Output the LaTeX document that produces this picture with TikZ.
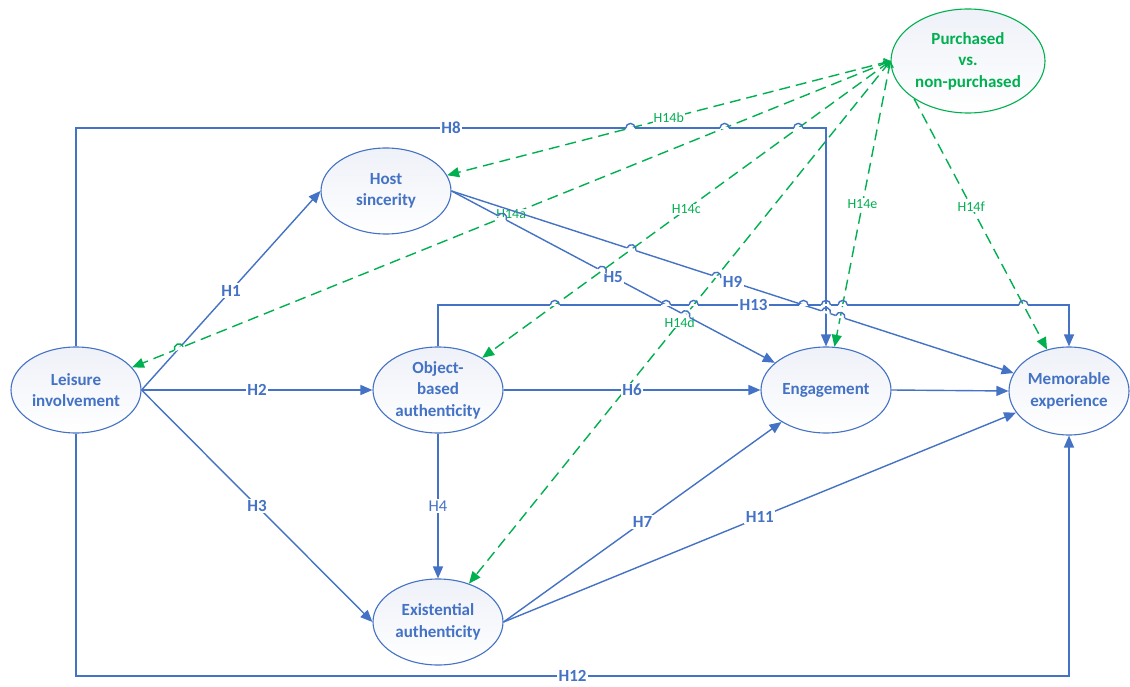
\documentclass[tikz,border=0pt]{standalone}
\usepackage{fontspec}
\setmainfont{Carlito}
\usetikzlibrary{arrows.meta,shapes.geometric,intersections}
\definecolor{bl}{HTML}{4472C4}
\definecolor{gr}{HTML}{00B050}
\definecolor{fillc}{HTML}{EEF1F8}
\tikzset{
  hop/.pic={\fill[white] (-4.8,-1.2) rectangle (4.8,1.2);
            \draw[bl, line width=1.4pt] (-4.6,0) arc[start angle=180, end angle=360, radius=4.6];},
  ghop/.pic={\fill[white] (-4.8,-1.2) rectangle (4.8,1.2);
            \draw[gr, line width=1.4pt] (-4.6,0) arc[start angle=180, end angle=360, radius=4.6];}
}
\newcommand\hopat[3][0]{\path[name intersections={of=#2 and #3, by=hp}]; \pic[rotate=#1] at (hp) {hop};}
\begin{document}
\begin{tikzpicture}[x=1pt,y=-1pt,
  var/.style={ellipse, draw=bl, line width=1.1pt, top color=fillc, bottom color=white,
              minimum width=130pt, minimum height=86pt, inner sep=0pt},
  vtext/.style={align=center, text=bl, font=\fontsize{17}{21.5}\selectfont\bfseries, inner sep=0pt},
  link/.style={draw=bl, line width=1.4pt, -{Triangle[length=12pt,width=10pt]}},
  hl/.style={fill=white, inner sep=1.5pt, text=bl, font=\fontsize{17}{18}\selectfont\bfseries},
  gl/.style={draw=gr, line width=1.4pt, dash pattern=on 11pt off 6pt,
             {Straight Barb[length=5pt,width=8pt]}-{Triangle[length=12pt,width=10pt]}},
  gt/.style={fill=white, inner sep=1pt, text=gr, font=\fontsize{14}{16}\selectfont},
]
\useasboundingbox (0,0) rectangle (1130,687);
\fill[white] (0,0) rectangle (1130,687);

% variables
\node[var] (L) at (76,390) {};
\node[vtext] (Lt) at (L) {Leisure\\involvement};
\node[var] (HS) at (386,191) {};
\node[vtext] (HSt) at (HS) {Host\\sincerity};
\node[var] (OB) at (438,390) {};
\node[vtext] (OBt) at (OB) {Object-\\based\\authenticity};
\node[var] (EX) at (438,622) {};
\node[vtext] (EXt) at (EX) {Existential\\authenticity};
\node[var] (EN) at (826,390) {};
\node[vtext] (ENt) at (EN) {Engagement};
\node[var, minimum width=120pt, minimum height=88pt] (ME) at (1069,391) {};
\node[vtext] (MEt) at (ME) {Memorable\\experience};
\node[var, draw=gr, minimum width=154pt, minimum height=104pt] (PU) at (968,61) {};
\node[vtext, text=gr] (PUt) at (PU) {Purchased\\vs.\\non-purchased};

\coordinate (h8) at (0,128);
\coordinate (h13) at (0,305);
\coordinate (h12) at (0,676);

% moderation (green dashed)
\draw[gl, name path=pb] (PU.west) -- node[gt]{H14b} (HS);
\draw[gl, name path=pa] (PU.west) -- node[gt]{H14a} (L);
\draw[gl, name path=pc] (PU.west) -- node[gt]{H14c} (OB);
\draw[gl, name path=pd] (PU.west) -- node[gt]{H14d} (EX);
\draw[gl, name path=pe] (PU.west) -- node[gt]{H14e} (EN);
\draw[gl, name path=pf, -{Triangle[length=12pt,width=10pt]}] (PU.215) -- node[gt, pos=0.43]{H14f} (ME);

% hypotheses (blue)
\draw[link, name path=p8] (L.north) |- node[hl, pos=0.75]{H8} (EN.north |- h8) -- (EN.north);
\draw[link, name path=p13] (OB.north) |- node[hl, pos=0.75]{H13} (ME.north |- h13) -- (ME.north);
\draw[link, name path=p12] (L.south) |- node[hl, pos=0.75]{H12} (ME.south |- h12) -- (ME.south);
\draw[link, name path=p1] (L.east) -- node[hl]{H1} (HS.west);
\draw[link] (L.east) -- node[hl]{H2} (OB.west);
\draw[link] (L.east) -- node[hl]{H3} (EX.west);
\draw[link] (OB.south) -- node[hl, font=\fontsize{16.5}{18}\selectfont]{H4} (EX.north);
\draw[link, name path=p5] (HS.east) -- node[hl]{H5} (EN);
\draw[link, name path=p9] (HS.east) -- node[hl]{H9} (ME);
\draw[link] (OB.east) -- node[hl]{H6} (EN.west);
\draw[link] (EX.east) -- node[hl]{H7} (EN);
\draw[link] (EX.east) -- node[hl]{H11} (ME);
\draw[link] (EN.east) -- (ME.west);

% line jumps
\hopat{p8}{pb}
\hopat{p8}{pa}
\hopat{p8}{pc}
\hopat{p13}{pc}
\hopat{p13}{p5}
\hopat{p13}{pd}
\hopat{p13}{p9}
\hopat{p13}{p8}
\hopat{p13}{pe}
\hopat{p13}{pf}
\hopat[-17.7]{p9}{pc}
\hopat[-17.7]{p9}{pd}
\hopat[-17.7]{p9}{p8}
\hopat[-17.7]{p9}{pe}
\hopat[-27.8]{p5}{pa}
\hopat[-27.8]{p5}{pc}
\hopat[-27.8]{p5}{pd}
\path[name intersections={of=pa and p1, by=gh}];
\pic[rotate=22] at (gh) {ghop};
\end{tikzpicture}
\end{document}
